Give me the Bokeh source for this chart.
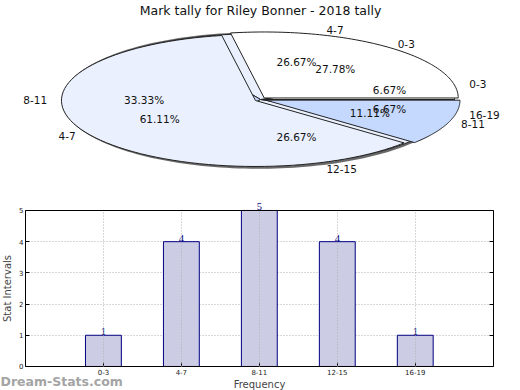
import numpy as np
from bokeh.plotting import figure
from bokeh.layouts import column
from bokeh.models import (Range1d, ColumnDataSource, LabelSet, Label, FixedTicker,
                          LinearAxis, Grid)
from bokeh.embed import file_html
from bokeh.resources import INLINE

# ---------------- data ----------------
title_text = "Mark tally for Riley Bonner - 2018 tally"
pie1_labels = ["0-3", "4-7", "8-11", "12-15", "16-19"]
pie1_values = [1, 4, 5, 4, 1]
pie2_labels = ["0-3", "4-7", "8-11"]
pie2_values = [5, 11, 2]

bar_categories = ["0-3", "4-7", "8-11", "12-15", "16-19"]
bar_values = [1, 4, 5, 4, 1]
y_ticks = [0, 1, 2, 3, 4, 5]
x_label = "Frequency"
y_label = "Stat Intervals"
watermark = "Dream-Stats.com"

# ---------------- styles ----------------
FONT = "DejaVu Sans"
pie1_colors = ["#ffffff", "#eaf0fd", "#c5d8fe", "#eaf0fd", "#ffffff"]
pie2_colors = ["#ffffff", "#eaf0fd", "#c5d8fe"]
pie2_explode = [0.03, 0.03, 0.03]
pie1_pct_shift = [0.08, 0, 0, 0, 0.08]

W = 520
H1 = 200
H2 = 190

# ---------------- pie figure ----------------
p1 = figure(width=W, height=H1, output_backend="svg", toolbar_location=None,
            x_range=Range1d(0, W), y_range=Range1d(H1, 0),
            x_axis_location=None, y_axis_location=None,
            min_border=0, outline_line_color=None)
p1.grid.visible = False

CX, CY = 260, 99      # pixel centre of pie
RX, RY = 194, 66      # ellipse radii


def wedge_poly(a0, a1, expl):
    mid = np.radians((a0 + a1) / 2)
    ox = expl * RX * np.cos(mid)
    oy = -expl * RY * np.sin(mid)
    t = np.radians(np.linspace(a0, a1, 80))
    xs = [CX + ox] + list(CX + ox + RX * np.cos(t))
    ys = [CY + oy] + list(CY + oy - RY * np.sin(t))
    return xs, ys


def pie_geometry(values, explode, pct_shift):
    total = float(sum(values))
    xs, ys, lx, ly, la, px, py, pt = [], [], [], [], [], [], [], []
    start = 0.0
    for i, v in enumerate(values):
        ang = 360.0 * v / total
        a0, a1 = start, start + ang
        x, y = wedge_poly(a0, a1, explode[i])
        xs.append(x)
        ys.append(y)
        mid = np.radians((a0 + a1) / 2)
        c, s = np.cos(mid), np.sin(mid)
        lx.append(CX + 1.1 * RX * c)
        ly.append(CY - 1.1 * RY * s)
        la.append("left" if c > 0 else "right")
        r = 0.6 + pct_shift[i]
        px.append(CX + r * RX * c)
        py.append(CY - r * RY * s)
        pt.append("%.2f%%" % (100.0 * v / total))
        start = a1
    return xs, ys, lx, ly, la, px, py, pt


# shadow rim (3-D look)
tt = np.radians(np.linspace(0, 360, 200))
p1.line(list(CX - 2 + (RX + 1) * np.cos(tt)), list(CY + 1 - (RY + 1) * np.sin(tt)),
        line_color="#444444", line_width=2.5, line_alpha=0.8)

g1 = pie_geometry(pie1_values, [0, 0, 0, 0, 0], pie1_pct_shift)
g2 = pie_geometry(pie2_values, pie2_explode, [0, 0, 0])

p1.patches(xs=g1[0], ys=g1[1], fill_color=pie1_colors, line_color="#222222", line_width=1)
p1.patches(xs=g2[0], ys=g2[1], fill_color=pie2_colors, line_color="#222222", line_width=1)

for g, labs in ((g1, pie1_labels), (g2, pie2_labels)):
    src = ColumnDataSource(dict(x=g[2], y=g[3], t=labs, a=g[4]))
    p1.text(x="x", y="y", text="t", source=src, text_align="a",
            text_baseline="middle", text_font={"value": FONT},
            text_font_size="10.5px", text_color="#111111")
    src2 = ColumnDataSource(dict(x=g[5], y=g[6], t=g[7]))
    p1.text(x="x", y="y", text="t", source=src2, text_align="center",
            text_baseline="middle", text_font={"value": FONT},
            text_font_size="10.5px", text_color="#111111")

p1.text(x=[W / 2], y=[2], text=[title_text], text_align="center",
        text_baseline="top", text_font={"value": FONT}, text_font_size="12.5px",
        text_color="#111111")

# ---------------- bar figure ----------------
n = len(bar_categories)
xs_idx = list(range(n))
y_max = y_ticks[-1]
x_lo, x_hi = -1, n          # plotting box in data units
p2 = figure(width=W, height=H2, output_backend="svg", toolbar_location=None,
            x_range=Range1d(x_lo - 0.32, x_hi + 0.35),
            y_range=Range1d(-0.77, y_max + 0.32),
            x_axis_location=None, y_axis_location=None,
            min_border=0, outline_line_color=None, background_fill_color="white")
p2.grid.visible = False

bsrc = ColumnDataSource(dict(x=xs_idx, top=bar_values, lab=[str(v) for v in bar_values]))

p2.add_layout(Grid(dimension=1, ticker=FixedTicker(ticks=y_ticks[1:-1]),
                   cross_bounds=(x_lo, x_hi),
                   grid_line_color="#b0b0b0", grid_line_dash="1 2"))

p2.vbar(x="x", top="top", width=0.46, source=bsrc, fill_color="#ccccE5",
        line_color="#000080", line_width=1)

# vertical grid lines are drawn over the bars, as in the original
p2.add_layout(Grid(dimension=0, ticker=FixedTicker(ticks=xs_idx), cross_bounds=(0, y_max),
                   grid_line_color="#b0b0b0", grid_line_dash="1 2", level="overlay"))


def style(ax):
    ax.major_tick_in = 4
    ax.major_tick_out = 0
    ax.minor_tick_line_color = None
    ax.major_label_text_font = FONT
    ax.major_label_text_font_size = "7px"
    ax.major_label_text_color = "#222222"
    ax.major_label_standoff = 3
    ax.axis_label_text_font = FONT
    ax.axis_label_text_font_style = "normal"
    ax.axis_label_text_font_size = "10px"
    ax.axis_label_standoff = 0
    ax.axis_line_color = "black"
    return ax


xax = style(LinearAxis(fixed_location=0, bounds=(x_lo, x_hi),
                       ticker=FixedTicker(ticks=xs_idx),
                       major_label_overrides={i: c for i, c in enumerate(bar_categories)},
                       axis_label=x_label))
yax = style(LinearAxis(fixed_location=x_lo, bounds=(0, y_max),
                       ticker=FixedTicker(ticks=y_ticks), axis_label=y_label))
yax.major_label_standoff = 2
yax.axis_label_standoff = 3
rax = style(LinearAxis(fixed_location=x_hi, bounds=(0, y_max),
                       ticker=FixedTicker(ticks=y_ticks)))
rax.major_label_text_color = None
tax = style(LinearAxis(fixed_location=y_max, bounds=(x_lo, x_hi),
                       ticker=FixedTicker(ticks=xs_idx)))
tax.major_label_text_color = None
tax.major_tick_in = 0

p2.add_layout(xax, "below")
p2.add_layout(yax, "left")
p2.add_layout(rax, "right")
p2.add_layout(tax, "above")

p2.add_layout(LabelSet(x="x", y="top", text="lab", source=bsrc, text_align="center",
                       text_baseline="alphabetic", text_font_size="10.5px",
                       text_font=FONT, text_color="#000080", y_offset=0))

p2.add_layout(Label(x=0, y=9, x_units="screen", y_units="screen", text=watermark,
                    text_font=FONT, text_font_style="bold", text_font_size="12.5px",
                    text_color="#a4a4a4", text_baseline="middle"))

layout = column(p1, p2, spacing=0)
open("out.html", "w").write(file_html(layout, INLINE))
